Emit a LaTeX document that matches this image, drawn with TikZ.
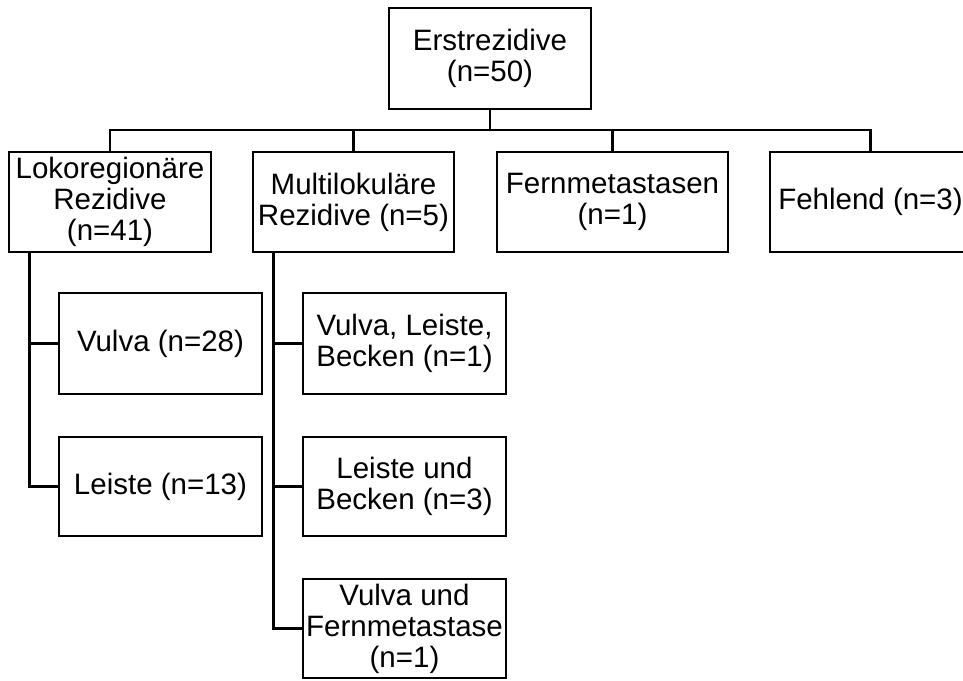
\documentclass[tikz,border=0pt]{standalone}
\usepackage{fontspec}
\setmainfont{Liberation Sans}
\begin{document}
\begin{tikzpicture}[x=1pt,y=-1pt,
  box/.style={draw, line width=2.4pt, inner sep=0pt, align=center,
    font=\fontsize{29.5}{31}\selectfont},
  link/.style={draw, line width=2.4pt}]
\useasboundingbox (0,0) rectangle (963,680);

% root
\node[box, minimum width=202pt, minimum height=101pt] (root) at (490,58.5) {Erstrezidive\\(n=50)};

% first level
\node[box, minimum width=202pt, minimum height=100pt] (lok) at (110,202) {Lokoregionäre\\Rezidive\\(n=41)};
\node[box, minimum width=201pt, minimum height=100pt] (mul) at (353.5,202) {Multilokuläre\\Rezidive (n=5)};
\node[box, minimum width=231pt, minimum height=100pt] (fern) at (612.5,202) {Fernmetastasen\\(n=1)};
\node[box, minimum width=201pt, minimum height=100pt] (fehl) at (870.5,202) {Fehlend (n=3)};

% second level, left column
\node[box, minimum width=203pt, minimum height=101pt] (vul) at (160.5,343.5) {Vulva (n=28)};
\node[box, minimum width=203pt, minimum height=99pt] (lei) at (160.5,486.5) {Leiste (n=13)};

% second level, right column
\node[box, minimum width=203pt, minimum height=101pt] (vlb) at (404.5,343.5) {Vulva, Leiste,\\Becken (n=1)};
\node[box, minimum width=203pt, minimum height=99pt] (lub) at (404.5,486.5) {Leiste und\\Becken (n=3)};
\node[box, minimum width=203pt, minimum height=99pt] (vuf) at (404.5,628.5) {Vulva und\\Fernmetastase\\(n=1)};

% bus below the root
\coordinate (bus) at (0,130);
\draw[link] (root.south) -- (root.south |- bus);
\draw[link] (lok.north) -- (lok.north |- bus) -- (fehl.north |- bus) -- (fehl.north);
\draw[link] (mul.north) -- (mul.north |- bus);
\draw[link] (fern.north) -- (fern.north |- bus);

% trunks to the second level
\coordinate (tl) at (29.5,252);
\coordinate (tm) at (273.5,252);
\draw[link] (tl) |- (vul.west);
\draw[link] (tl) |- (lei.west);
\draw[link] (tm) |- (vlb.west);
\draw[link] (tm) |- (lub.west);
\draw[link] (tm) |- (vuf.west);
\end{tikzpicture}
\end{document}
